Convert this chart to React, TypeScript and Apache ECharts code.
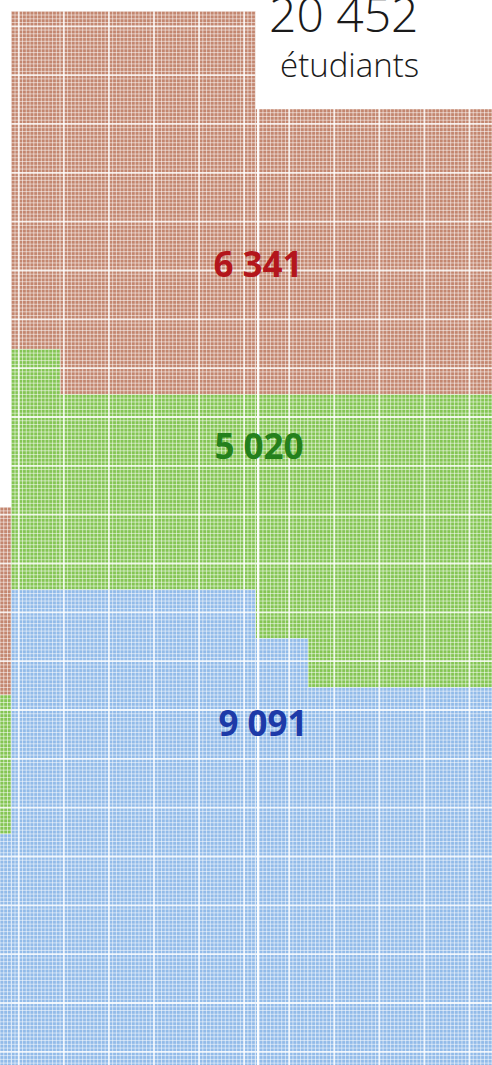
import React, { useEffect, useRef } from "react";
import * as echarts from "echarts";

// ---- data ----
const categories = ["groupe A", "groupe B", "groupe C"];
const values = [6341, 5020, 9091];
const total = values.reduce((a, b) => a + b, 0); // 20 452
const totalLabel = "étudiants";

// ---- layout of the (cropped) waffle, in cell units: [col0, col1, row0, row1, category] ----
const COLS = 131;
const ROWS = 283.5;
const regions: number[][] = [
  // brown
  [3, 16, 3, 93, 0],
  [16, 68, 3, 105, 0],
  [68, 131, 29, 105, 0],
  [0, 3, 135, 185, 0],
  // green
  [3, 16, 93, 157, 1],
  [16, 68, 105, 157, 1],
  [68, 82, 105, 170, 1],
  [82, 131, 105, 183, 1],
  [0, 3, 185, 222, 1],
  // blue
  [3, 68, 157, 283.5, 2],
  [68, 82, 170, 283.5, 2],
  [82, 131, 183, 283.5, 2],
  [0, 3, 222, 283.5, 2],
];

const cellColors = ["#c3866f", "#84c553", "#92bbe9"];
const textColors = ["#b3161c", "#24801c", "#1d3aa8"];
const fmt = (v: number) => v.toString().replace(/\B(?=(\d{3})+(?!\d))/g, " ");

export default function App() {
  const ref = useRef<HTMLDivElement>(null);
  useEffect(() => {
    if (!ref.current) return;
    const chart = echarts.init(ref.current, null, { renderer: "svg" });
    const valueText = (i: number, x: number, y: number) => ({
      type: "text",
      z: 100,
      x,
      y,
      style: {
        text: fmt(values[i]),
        font: "bold 35px 'Open Sans'",
        fill: textColors[i],
        textAlign: "center",
        textVerticalAlign: "middle",
        align: "center",
        verticalAlign: "middle",
      },
    });
    const option: any = {
      animation: false,
      backgroundColor: "#ffffff",
      grid: { left: 0, right: 0, top: 0, bottom: 0 },
      xAxis: { type: "value", min: 0, max: COLS, show: false },
      yAxis: { type: "value", min: 0, max: ROWS, inverse: true, show: false },
      series: [
        {
          type: "custom",
          name: "waffle",
          data: regions,
          encode: { x: [0, 1], y: [2, 3] },
          renderItem: (params: any, api: any) => {
            const c0 = api.value(0);
            const c1 = api.value(1);
            const r0 = api.value(2);
            const r1 = api.value(3);
            const k = api.value(4);
            const p0 = api.coord([c0, r0]);
            const p1 = api.coord([c1, r1]);
            const children: any[] = [
              {
                type: "rect",
                shape: { x: p0[0], y: p0[1], width: p1[0] - p0[0], height: p1[1] - p0[1] },
                style: { fill: cellColors[k] },
              },
            ];
            for (let c = Math.ceil(c0); c <= Math.floor(c1); c++) {
              const x = api.coord([c, 0])[0];
              const major = c % 12 === 5;
              children.push({
                type: "line",
                shape: { x1: x, y1: p0[1], x2: x, y2: p1[1] },
                style: {
                  stroke: major ? "rgba(255,255,255,0.85)" : "rgba(255,255,255,0.55)",
                  lineWidth: major ? 1.8 : 1,
                },
              });
            }
            for (let r = Math.ceil(r0); r <= Math.floor(r1); r++) {
              const y = api.coord([0, r])[1];
              const major = r % 13 === 7;
              children.push({
                type: "line",
                shape: { x1: p0[0], y1: y, x2: p1[0], y2: y },
                style: {
                  stroke: major ? "rgba(255,255,255,0.85)" : "rgba(255,255,255,0.55)",
                  lineWidth: major ? 1.8 : 1,
                },
              });
            }
            return { type: "group", children };
          },
          markLine: {
            silent: true,
            symbol: "none",
            label: { show: false },
            lineStyle: { color: "rgba(255,255,255,0.95)", width: 2, type: "solid" },
            data: [{ xAxis: 68.7 }],
          },
        },
      ],
      graphic: [
        {
          type: "text",
          z: 100,
          left: 269,
          top: -11,
          style: { text: fmt(total), font: "300 48px 'Open Sans'", fill: "#1a1a1a" },
        },
        {
          type: "text",
          z: 100,
          left: 280,
          top: 48,
          style: { text: totalLabel, font: "300 33px 'Open Sans'", fill: "#1a1a1a" },
        },
        valueText(0, 258, 263),
        valueText(1, 259, 445),
        valueText(2, 263, 722),
      ],
    };
    chart.setOption(option);
    return () => chart.dispose();
  }, []);
  return (
    <div
      ref={ref}
      style={{ position: "absolute", left: 0, top: 0, width: 492, height: 1065 }}
      aria-label={categories.join(", ")}
    />
  );
}
